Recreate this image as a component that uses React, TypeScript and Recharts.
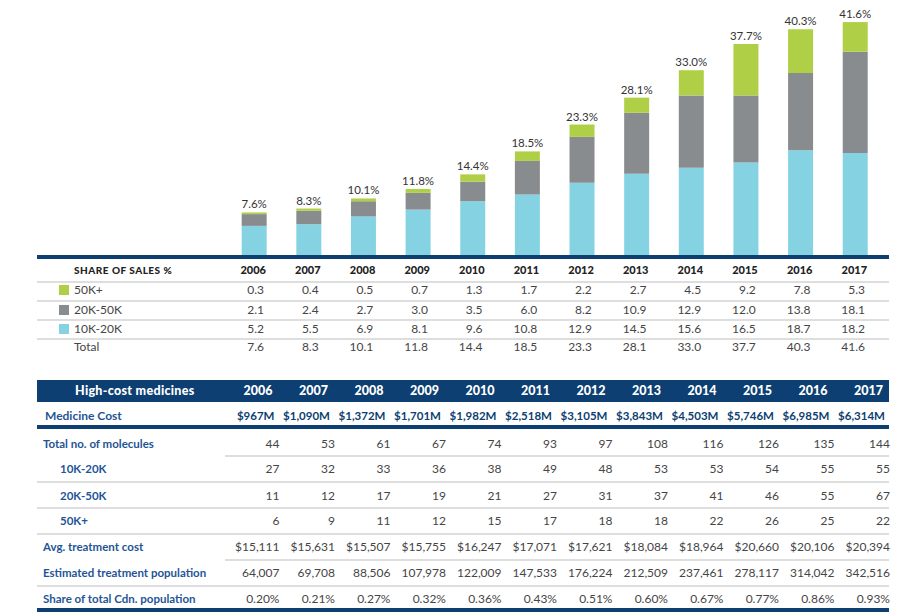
import React from "react";
import { BarChart, Bar, XAxis, YAxis, LabelList } from "recharts";

const years = ["2006", "2007", "2008", "2009", "2010", "2011", "2012", "2013", "2014", "2015", "2016", "2017"];

// share of sales %, by cost band
const share50k = [0.3, 0.4, 0.5, 0.7, 1.3, 1.7, 2.2, 2.7, 4.5, 9.2, 7.8, 5.3];
const share20k = [2.1, 2.4, 2.7, 3.0, 3.5, 6.0, 8.2, 10.9, 12.9, 12.0, 13.8, 18.1];
const share10k = [5.2, 5.5, 6.9, 8.1, 9.6, 10.8, 12.9, 14.5, 15.6, 16.5, 18.7, 18.2];
const shareTotal = [7.6, 8.3, 10.1, 11.8, 14.4, 18.5, 23.3, 28.1, 33.0, 37.7, 40.3, 41.6];

// high-cost medicines table
const medicineCost = [967, 1090, 1372, 1701, 1982, 2518, 3105, 3843, 4503, 5746, 6985, 6314];
const moleculesTotal = [44, 53, 61, 67, 74, 93, 97, 108, 116, 126, 135, 144];
const molecules10k = [27, 32, 33, 36, 38, 49, 48, 53, 53, 54, 55, 55];
const molecules20k = [11, 12, 17, 19, 21, 27, 31, 37, 41, 46, 55, 67];
const molecules50k = [6, 9, 11, 12, 15, 17, 18, 18, 22, 26, 25, 22];
const avgCost = [15111, 15631, 15507, 15755, 16247, 17071, 17621, 18084, 18964, 20660, 20106, 20394];
const treatPop = [64007, 69708, 88506, 107978, 122009, 147533, 176224, 212509, 237461, 278117, 314042, 342516];
const popShare = [0.2, 0.21, 0.27, 0.32, 0.36, 0.43, 0.51, 0.6, 0.67, 0.77, 0.86, 0.93];

const NAVY = "#0d3f72";
const BLUE_TXT = "#1f5597";
const GREY_TXT = "#454545";
const LINE = "#dedede";
const C50 = "#afd046";
const C20 = "#898c8f";
const C10 = "#85d3e2";

const chartData = years.map((y, i) => ({
  year: y,
  k10: share10k[i],
  k20: share20k[i],
  k50: share50k[i],
  total: shareTotal[i],
}));

const fmt = (n: number) => n.toLocaleString("en-US");

// column geometry
const t1Right = (i: number) => 266 + 54.64 * i;
const t2Right = (i: number) => 279.5 + 55.5 * i;

type TxtProps = {
  x: number;
  cy: number;
  align?: "left" | "right";
  style?: React.CSSProperties;
  children: React.ReactNode;
};

function Txt({ x, cy, align = "left", style, children }: TxtProps) {
  const h = 20;
  const s: React.CSSProperties = {
    position: "absolute",
    top: cy - h / 2,
    height: h,
    lineHeight: `${h}px`,
    whiteSpace: "nowrap",
    ...style,
  };
  if (align === "right") s.right = 900 - x;
  else s.left = x;
  return <div style={s}>{children}</div>;
}

function HLine({ x1, x2, y, h = 2, color = LINE }: { x1: number; x2: number; y: number; h?: number; color?: string }) {
  return <div style={{ position: "absolute", left: x1, top: y, width: x2 - x1, height: h, background: color }} />;
}

const t1Rows = [
  { label: "50K+", color: C50, vals: share50k },
  { label: "20K-50K", color: C20, vals: share20k },
  { label: "10K-20K", color: C10, vals: share10k },
  { label: "Total", color: null, vals: shareTotal },
];
const t1Centers = [290, 309.5, 328.5, 347];

const t2Rows = [
  { label: "Total no. of molecules", indent: false, vals: moleculesTotal.map(fmt) },
  { label: "10K-20K", indent: true, vals: molecules10k.map(fmt) },
  { label: "20K-50K", indent: true, vals: molecules20k.map(fmt) },
  { label: "50K+", indent: true, vals: molecules50k.map(fmt) },
  { label: "Avg. treatment cost", indent: false, vals: avgCost.map((v) => "$" + fmt(v)) },
  { label: "Estimated treatment population", indent: false, vals: treatPop.map(fmt) },
  { label: "Share of total Cdn. population", indent: false, vals: popShare.map((v) => v.toFixed(2) + "%") },
];
const t2Centers = [444, 469, 495.5, 521, 547, 573, 598.5];

export default function App() {
  return (
    <div
      style={{
        position: "absolute",
        left: 0,
        top: 0,
        width: 900,
        height: 616,
        background: "#fff",
        fontFamily: "Lato, 'Open Sans', sans-serif",
        overflow: "hidden",
      }}
    >
      <div style={{ position: "absolute", left: 0, top: 0 }}>
        <BarChart
          width={900}
          height={259}
          data={chartData}
          margin={{ top: 0, right: 17.64, left: 226.68, bottom: 4 }}
        >
          <XAxis dataKey="year" hide />
          <YAxis hide domain={[0, 45.54]} />
          <Bar dataKey="k10" stackId="a" fill={C10} barSize={25} isAnimationActive={false} />
          <Bar dataKey="k20" stackId="a" fill={C20} barSize={25} isAnimationActive={false} />
          <Bar dataKey="k50" stackId="a" fill={C50} barSize={25} isAnimationActive={false}>
            <LabelList
              dataKey="total"
              position="top"
              offset={4}
              fill="#333"
              fontSize={11.5}
              fontFamily="Lato, sans-serif"
              formatter={(v: any) => `${Number(v).toFixed(1)}%`}
            />
          </Bar>
        </BarChart>
      </div>

      {/* share of sales table */}
      <HLine x1={37} x2={889} y={255} h={4} color={NAVY} />
      <Txt x={74} cy={270} style={{ fontSize: 10, fontWeight: 900, color: "#222", letterSpacing: 0.5 }}>
        SHARE OF SALES %
      </Txt>
      {years.map((y, i) => (
        <Txt key={y} x={t1Right(i)} cy={270} align="right" style={{ fontSize: 11, fontWeight: 900, color: "#222" }}>
          {y}
        </Txt>
      ))}
      {[281, 300, 319, 338].map((y) => (
        <HLine key={y} x1={37} x2={889} y={y} h={2} />
      ))}
      {t1Rows.map((r, ri) => (
        <React.Fragment key={r.label}>
          {r.color && (
            <div
              style={{
                position: "absolute",
                left: 59,
                top: t1Centers[ri] - 5,
                width: 10,
                height: 10,
                background: r.color,
              }}
            />
          )}
          <Txt x={74} cy={t1Centers[ri]} style={{ fontSize: 12, color: GREY_TXT }}>
            {r.label}
          </Txt>
          {r.vals.map((v, i) => (
            <Txt key={i} x={t1Right(i) - 2} cy={t1Centers[ri]} align="right" style={{ fontSize: 12, color: GREY_TXT }}>
              {v.toFixed(1)}
            </Txt>
          ))}
        </React.Fragment>
      ))}

      {/* high-cost medicines table */}
      <div style={{ position: "absolute", left: 37, top: 380, width: 852, height: 22, background: NAVY }} />
      <Txt x={75} cy={391} style={{ fontSize: 12.5, fontWeight: 900, color: "#fff", letterSpacing: 0.3 }}>
        High-cost medicines
      </Txt>
      {years.map((y, i) => (
        <Txt key={y} x={t2Right(i) - 7} cy={391} align="right" style={{ fontSize: 12.5, fontWeight: 900, color: "#fff" }}>
          {y}
        </Txt>
      ))}
      <Txt x={45} cy={416} style={{ fontSize: 12, fontWeight: 700, color: BLUE_TXT }}>
        Medicine Cost
      </Txt>
      {medicineCost.map((v, i) => (
        <Txt key={i} x={t2Right(i) - 5} cy={416} align="right" style={{ fontSize: 11.5, fontWeight: 700, color: NAVY }}>
          {"$" + fmt(v) + "M"}
        </Txt>
      ))}
      <HLine x1={37} x2={889} y={425} h={4} color={NAVY} />
      <HLine x1={225} x2={889} y={455} />
      <HLine x1={37} x2={889} y={481} />
      <HLine x1={37} x2={889} y={507} />
      <HLine x1={37} x2={889} y={533} />
      <HLine x1={225} x2={889} y={559} />
      <HLine x1={37} x2={889} y={585} />
      <HLine x1={37} x2={889} y={608} h={4} color={NAVY} />
      {t2Rows.map((r, ri) => (
        <React.Fragment key={r.label + ri}>
          <Txt x={r.indent ? 60 : 43} cy={t2Centers[ri]} style={{ fontSize: 11.5, fontWeight: 700, color: BLUE_TXT }}>
            {r.label}
          </Txt>
          {r.vals.map((v, i) => (
            <Txt key={i} x={t2Right(i)} cy={t2Centers[ri]} align="right" style={{ fontSize: 12, color: GREY_TXT }}>
              {v}
            </Txt>
          ))}
        </React.Fragment>
      ))}
    </div>
  );
}
